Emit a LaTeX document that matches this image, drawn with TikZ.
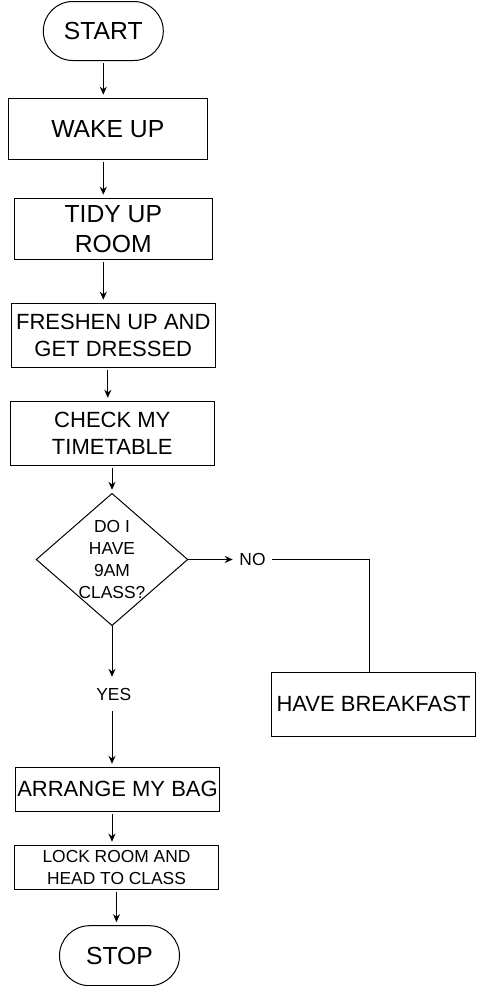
\documentclass[tikz,border=0pt]{standalone}
\usepackage{fontspec}
\setmainfont{Liberation Sans}
\usepackage{tikz}
\usetikzlibrary{shapes.geometric,arrows.meta}
\newcommand{\fsizeL}{\fontsize{24.7}{30}\selectfont}
\newcommand{\fsizeM}{\fontsize{22}{26.7}\selectfont}
\newcommand{\fsizeS}{\fontsize{17.4}{21.7}\selectfont}
\tikzset{terminal/.style = {draw, line width=1pt, rounded corners=29.5pt,
    minimum width=120pt, minimum height=59pt, inner sep=0pt, font=\fsizeL},
  box/.style = {draw, line width=1pt, minimum width=204pt, minimum height=64pt,
    inner sep=0pt, align=center},
  flow/.style = {line width=1pt, -{Stealth[length=8pt,width=7pt]},
    shorten >=3pt, shorten <=2pt}}

\begin{document}
\begin{tikzpicture}[x=1pt,y=-1pt]
  \useasboundingbox (0,0) rectangle (488,986);
  \node[terminal] (S) at (103.3,31) {START};
  \node[box,minimum width=199pt,minimum height=61pt,font=\fsizeL] (W) at (107.8,128.7) {WAKE UP};
  \node[box,minimum width=198pt,minimum height=61pt,font=\fsizeL] (T) at (113.3,228.7) {TIDY UP\\ROOM};
  \node[box,font=\fsizeM] (F) at (113.3,335.2) {FRESHEN UP AND\\GET DRESSED};
  \node[box,font=\fsizeM] (C) at (112.3,433.3) {CHECK MY\\TIMETABLE};
  \node[diamond,draw,line width=1pt,minimum width=151.7pt,minimum height=132.4pt,inner sep=0pt,
    label={[font=\fsizeS,align=center]center:DO I\\HAVE\\9AM\\CLASS?}] (D) at (112,559.5) {};
  \node[font=\fsizeS,inner xsep=6.5pt,inner ysep=2pt] (N) at (252.5,559.5) {NO};
  \node[font=\fsizeS,minimum height=34pt,inner sep=0pt] (Y) at (113.8,694) {YES};
  \node[box,font=\fsizeM] (B) at (373.5,704.3) {HAVE BREAKFAST};
  \node[box,minimum height=44pt,font=\fsizeM] (A) at (117.5,789.3) {ARRANGE MY BAG};
  \node[box,minimum height=44pt,font=\fsizeS] (L) at (116.5,867.2) {LOCK ROOM AND\\HEAD TO CLASS};
  \node[terminal,minimum height=60pt,rounded corners=30pt] (E) at (119.5,955.7) {STOP};

  \draw[flow] (S.south) -- (S.south |- W.north);
  \draw[flow] (W.south -| S) -- (T.north -| S);
  \draw[flow] (T.south -| S) -- (F.north -| S);
  \draw[flow] (F.south -| W) -- (C.north -| W);
  \draw[flow] (C.south -| D) -- (D.north);
  \draw[flow,shorten >=0pt,shorten <=0pt] (D.east) -- (N.west);
  \draw[line width=1pt] (N.east) -| ([xshift=-4pt]B.north);
  \draw[flow,shorten >=0pt,shorten <=0pt] (D.south) -- (D.south |- Y.north);
  \draw[flow,shorten <=0pt] (Y.south -| D) -- (A.north -| D);
  \draw[flow] (A.south -| D) -- (L.north -| D);
  \draw[flow] (L.south) -- (L.south |- E.north);
\end{tikzpicture}
\end{document}
